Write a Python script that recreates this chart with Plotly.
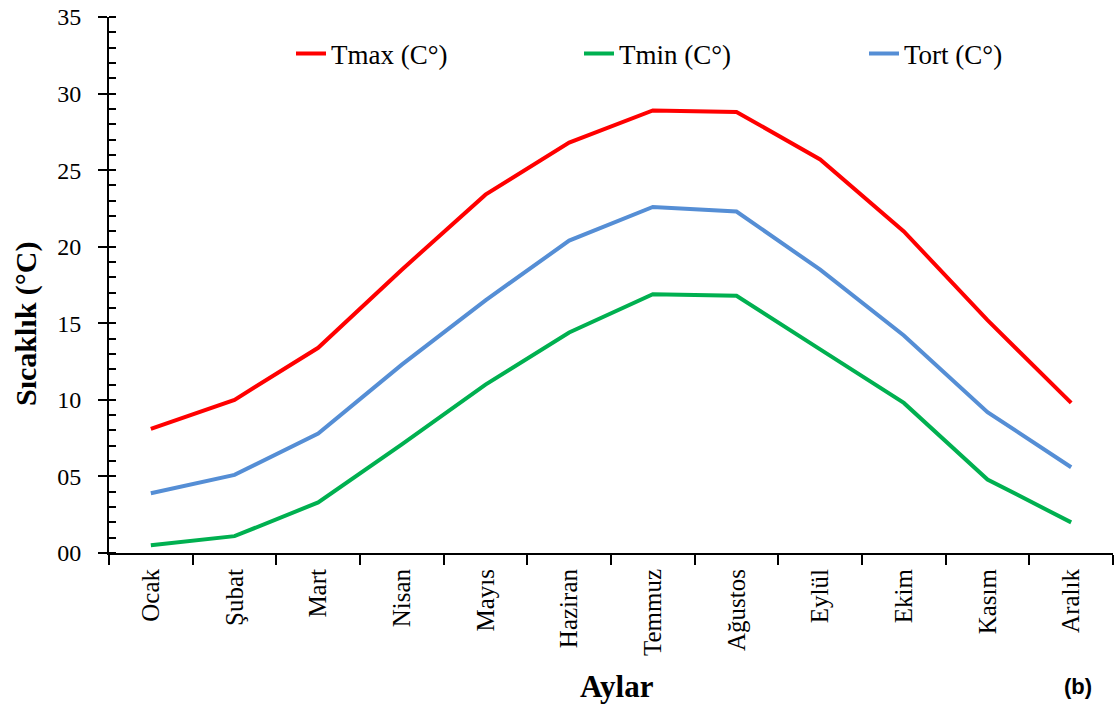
import plotly.graph_objects as go

months = ["Ocak", "Şubat", "Mart", "Nisan", "Mayıs", "Haziran",
          "Temmuz", "Ağustos", "Eylül", "Ekim", "Kasım", "Aralık"]
tmax = [8.1, 10.0, 13.4, 18.5, 23.4, 26.8, 28.9, 28.8, 25.7, 21.0, 15.2, 9.8]
tmin = [0.5, 1.1, 3.3, 7.1, 11.0, 14.4, 16.9, 16.8, 13.3, 9.8, 4.8, 2.0]
tort = [3.9, 5.1, 7.8, 12.3, 16.5, 20.4, 22.6, 22.3, 18.5, 14.2, 9.2, 5.6]
ytick_vals = [0, 5, 10, 15, 20, 25, 30, 35]
ytick_text = ["00", "05", "10", "15", "20", "25", "30", "35"]

serif = "Liberation Serif"
W, H = 1115, 706
ML, MR, MT, MB = 109, 2, 17, 153
PW, PH = W - ML - MR, H - MT - MB

def px_x(x):
    return (x - ML) / PW

def px_y(y):
    return (H - MB - y) / PH

fig = go.Figure()
fig.add_trace(go.Scatter(x=months, y=tmax, mode="lines", name="Tmax (C°)",
                         line=dict(color="#FF0000", width=4), legend="legend"))
fig.add_trace(go.Scatter(x=months, y=tmin, mode="lines", name="Tmin (C°)",
                         line=dict(color="#00B050", width=4), legend="legend2"))
fig.add_trace(go.Scatter(x=months, y=tort, mode="lines", name="Tort (C°)",
                         line=dict(color="#558ED5", width=4), legend="legend3"))

leg_font = dict(family=serif, size=27, color="black")
leg_common = dict(yanchor="middle", xanchor="left", font=leg_font, bgcolor="rgba(0,0,0,0)",
                  borderwidth=0)

fig.update_layout(
    width=W, height=H,
    margin=dict(l=ML, r=MR, t=MT, b=MB),
    paper_bgcolor="white", plot_bgcolor="white",
    font=dict(family=serif, color="black"),
    legend=dict(x=px_x(291), y=px_y(54), **leg_common),
    legend2=dict(x=px_x(579), y=px_y(54), **leg_common),
    legend3=dict(x=px_x(864), y=px_y(54), **leg_common),
    showlegend=True,
)
fig.update_xaxes(
    type="category", range=[-0.5, 11.5],
    showline=True, linecolor="black", linewidth=2,
    ticks="outside", tickson="boundaries", ticklen=10, tickwidth=2, tickcolor="black",
    tickangle=-90, tickfont=dict(family=serif, size=25, color="black"),
    ticklabelstandoff=4,
    showgrid=False, zeroline=False,
)
fig.update_yaxes(
    range=[0, 35], tickvals=ytick_vals, ticktext=ytick_text,
    showline=True, linecolor="black", linewidth=2,
    ticks="outside", ticklen=9, tickwidth=2, tickcolor="black",
    minor=dict(ticks="inside", dtick=1, ticklen=7, tickwidth=2, tickcolor="black", showgrid=False),
    tickfont=dict(family=serif, size=24, color="black"),
    ticklabelstandoff=12,
    showgrid=False, zeroline=False,
)
fig.add_annotation(text="<b>Sıcaklık (°C)</b>", xref="paper", yref="paper",
                   x=px_x(26), y=px_y(324), xanchor="center", yanchor="middle",
                   textangle=-90, showarrow=False,
                   font=dict(family=serif, size=30, color="black"))
fig.add_annotation(text="<b>Aylar</b>", xref="paper", yref="paper",
                   x=px_x(617), y=px_y(686), xanchor="center", yanchor="middle",
                   showarrow=False,
                   font=dict(family=serif, size=31, color="black"))
fig.add_annotation(text="<b>(b)</b>", xref="paper", yref="paper",
                   x=px_x(1078), y=px_y(686), xanchor="center", yanchor="middle",
                   showarrow=False,
                   font=dict(family="Liberation Sans", size=22, color="black"))

fig.write_html("out.html")
